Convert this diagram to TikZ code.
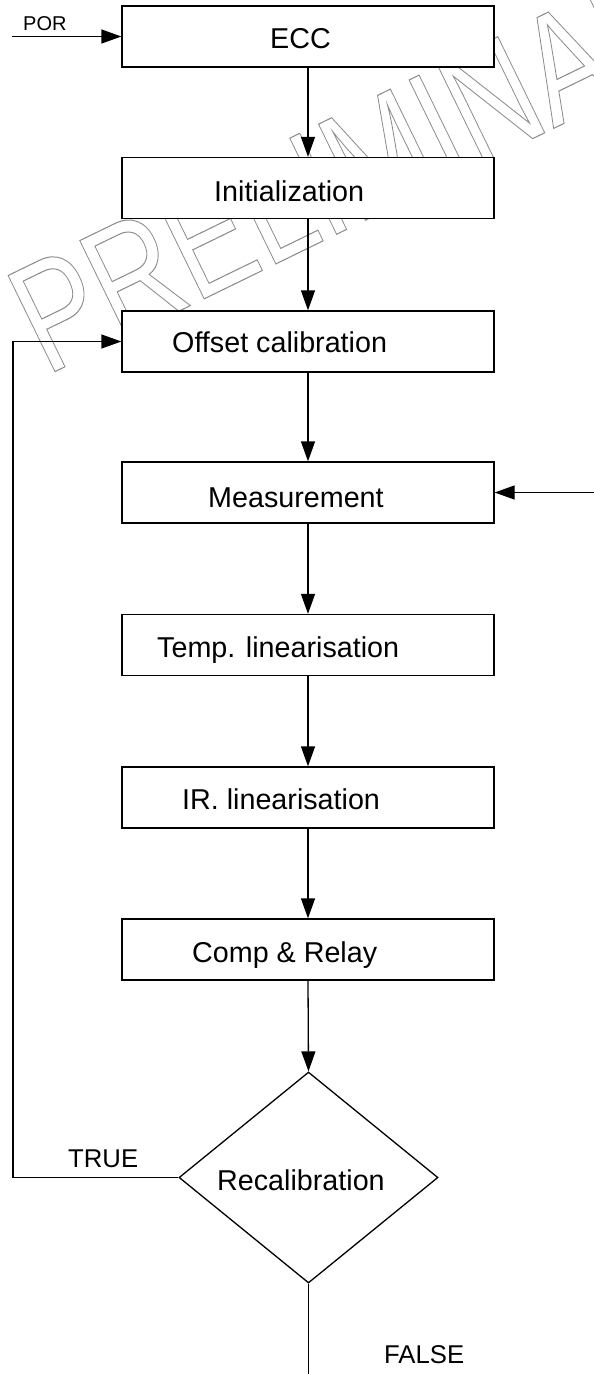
\documentclass[tikz,border=0pt]{standalone}
\usepackage{fontspec}
\setmainfont{Liberation Sans}
\usetikzlibrary{arrows.meta,shapes.geometric}
\begin{document}
\begin{tikzpicture}[x=1pt,y=-1pt,
  box/.style={draw,fill=white,line width=1.3pt,minimum width=372pt,minimum height=61pt,inner sep=0pt},
  decision/.style={draw,fill=white,shape=diamond,line width=1.3pt,minimum width=259pt,minimum height=211pt,inner sep=0pt},
  boxtext/.style={anchor=base west,inner sep=0pt,font=\fontsize{28.7pt}{34pt}\selectfont},
  smalltext/.style={anchor=base west,inner sep=0pt,font=\fontsize{20pt}{24pt}\selectfont},
  flagtext/.style={anchor=base west,inner sep=0pt,font=\fontsize{25.7pt}{30pt}\selectfont},
  watermark/.style={anchor=base west,inner sep=0pt,rotate=26,yscale=1.3,text=black!45,font=\fontsize{119.5pt}{120pt}\selectfont},
  arr/.style={line width=1.3pt,-{Triangle[length=20pt,width=14pt]}},
  plain/.style={line width=1.3pt}]
\useasboundingbox (0,0) rectangle (594,1374);
\fill[white] (0,0) rectangle (594,1374);
% watermark (outlined), kept out of the boxes
\begin{scope}[even odd rule]
\clip (0,0) rectangle (594,1374)
  (122,6) rectangle (494,67) (122,157.5) rectangle (494,218.5)
  (122,311) rectangle (494,372);
\node[watermark] (wm) at (46,376) {\special{pdf:literal direct 1 Tr 0.8 w}PRELIMINARY\special{pdf:literal direct 0 Tr}};
\end{scope}
% boxes
\node[box] (ecc)  at (308,36.5) {};
\node[box] (init) at (308,188) {};
\node[box] (off)  at (308,341.5) {};
\node[box] (meas) at (308,492.5) {};
\node[box] (temp) at (308,645) {};
\node[box] (ir)   at (308,797.5) {};
\node[box] (comp) at (308,949.5) {};
\node[decision] (dia) at (308.5,1177.5) {};
% texts
\node[boxtext] (tecc)  at (270,48) {ECC};
\node[boxtext] (tinit) at (214,201) {Initialization};
\node[boxtext] (toff)  at (172,352) {Offset calibration};
\node[boxtext] (tmeas) at (208,507) {Measurement};
\node[boxtext] (ttemp) at (157,657) {Temp. linearisation};
\node[boxtext] (tir)   at (182,809) {IR. linearisation};
\node[boxtext] (tcomp) at (192,962) {Comp \& Relay};
\node[boxtext] (tdia)  at (217,1190) {Recalibration};
\node[smalltext] (tpor) at (23,30) {POR};
\node[flagtext] (ttrue) at (68,1167) {TRUE};
\node[flagtext] (tfalse) at (384,1363) {FALSE};
% free ends
\coordinate (por) at (12,36.5);
\coordinate (rin) at (594,492.5);
\coordinate (lc) at (13,1177.5);
\coordinate (fend) at (308.5,1374);
% connectors
\draw[arr] (por) -- (ecc.west);
\draw[arr] (ecc.south) -- (init.north);
\draw[arr] (init.south) -- (off.north);
\draw[arr] (off.south) -- (meas.north);
\draw[arr] (meas.south) -- (temp.north);
\draw[arr] (temp.south) -- (ir.north);
\draw[arr] (ir.south) -- (comp.north);
\draw[arr] (comp.south) -- (dia.north);
\draw[arr] (rin) -- (meas.east);
\draw[arr] (dia.west) -- (lc) |- (off.west);
\draw[plain] (dia.south) -- (fend);
\end{tikzpicture}
\end{document}
